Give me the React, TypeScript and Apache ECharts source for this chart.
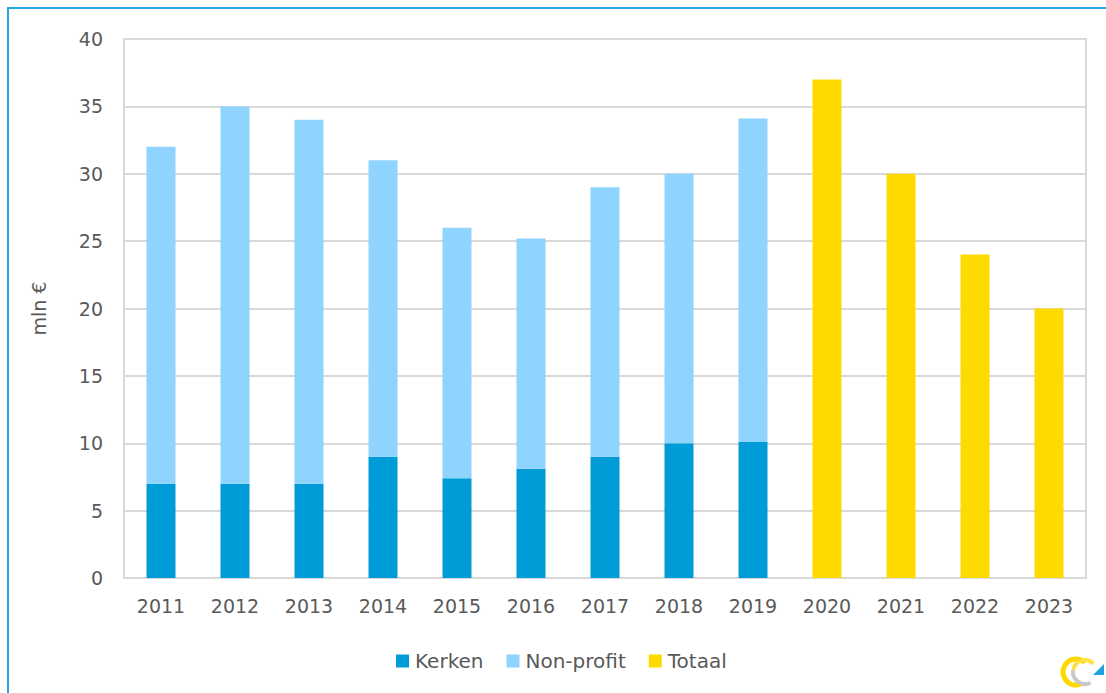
import React, { useEffect, useRef } from "react";
import * as echarts from "echarts";

const years = ["2011", "2012", "2013", "2014", "2015", "2016", "2017", "2018", "2019", "2020", "2021", "2022", "2023"];
const kerken = [7, 7, 7, 9, 7.4, 8.1, 9, 10, 10.1, null, null, null, null];
const nonProfit = [25, 28, 27, 22, 18.6, 17.1, 20, 20, 24, null, null, null, null];
const totaal = [null, null, null, null, null, null, null, null, null, 37, 30, 24, 20];
const yTicks = [0, 5, 10, 15, 20, 25, 30, 35, 40];

const FONT = "DejaVu Sans";
const TEXT = "#595959";

export default function App() {
  const ref = useRef<HTMLDivElement>(null);
  useEffect(() => {
    if (!ref.current) return;
    const chart = echarts.init(ref.current, undefined, { renderer: "svg" });
    const bar = (name: string, data: any[], color: string) => ({
      name,
      type: "bar",
      stack: "s",
      data,
      barWidth: 29,
      itemStyle: { color },
    });
    chart.setOption({
      animation: false,
      backgroundColor: "#ffffff",
      textStyle: { fontFamily: FONT },
      grid: {
        left: 124,
        right: 20,
        top: 39,
        bottom: 115,
        show: true,
        borderColor: "#d9d9d9",
        borderWidth: 2,
      },
      legend: {
        left: 396,
        top: 651,
        padding: 0,
        itemWidth: 13,
        itemHeight: 13,
        itemGap: 23,
        icon: "rect",
        textStyle: { fontSize: 20, color: TEXT, fontFamily: FONT, padding: [0, 0, 0, 1] },
        data: ["Kerken", "Non-profit", "Totaal"],
      },
      xAxis: {
        type: "category",
        data: years,
        axisTick: { show: false },
        axisLine: { lineStyle: { color: "#d9d9d9", width: 2 } },
        axisLabel: { fontSize: 19, color: TEXT, margin: 18, fontFamily: FONT },
      },
      yAxis: {
        type: "value",
        min: yTicks[0],
        max: yTicks[yTicks.length - 1],
        interval: 5,
        name: "mln €",
        nameLocation: "middle",
        nameGap: 76,
        nameTextStyle: { fontSize: 19, color: TEXT, fontFamily: FONT },
        axisLine: { show: true, lineStyle: { color: "#d9d9d9", width: 2 } },
        axisTick: { show: false },
        splitLine: { lineStyle: { color: "#d9d9d9", width: 2 } },
        axisLabel: { fontSize: 19, color: TEXT, margin: 21, fontFamily: FONT },
      },
      series: [
        bar("Kerken", kerken, "#009cd8"),
        bar("Non-profit", nonProfit, "#8fd3ff"),
        bar("Totaal", totaal, "#ffda00"),
      ],
      graphic: [
        {
          type: "rect",
          shape: { x: 8, y: 8, width: 1300, height: 900 },
          style: { fill: "none", stroke: "#2aa6df", lineWidth: 2 },
          silent: true,
        },
        {
          type: "arc",
          shape: { cx: 1076, cy: 672, r: 13, startAngle: Math.PI * 0.35, endAngle: Math.PI * 1.75 },
          style: { stroke: "#ffd800", lineWidth: 5, fill: "none" },
        },
        {
          type: "arc",
          shape: { cx: 1085, cy: 672, r: 12, startAngle: Math.PI * 0.35, endAngle: Math.PI * 1.05 },
          style: { stroke: "#c8c8c8", lineWidth: 4, fill: "none" },
        },
        {
          type: "arc",
          shape: { cx: 1085, cy: 672, r: 12, startAngle: Math.PI * 1.05, endAngle: Math.PI * 1.75 },
          style: { stroke: "#ffe040", lineWidth: 4, fill: "none" },
        },
        {
          type: "polygon",
          shape: { points: [[1093, 675], [1104, 675], [1104, 664]] },
          style: { fill: "#1e9fe0" },
        },
      ],
    });
    return () => chart.dispose();
  }, []);
  return (
    <div
      ref={ref}
      style={{ position: "fixed", left: 0, top: 0, width: 1106, height: 693 }}
    />
  );
}
